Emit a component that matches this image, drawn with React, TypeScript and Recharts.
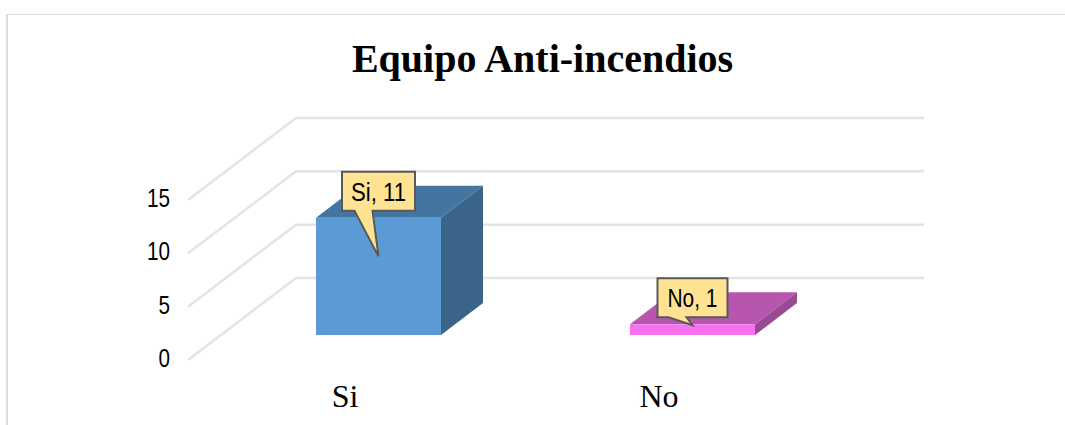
import React from 'react';
import { BarChart, Bar, XAxis, YAxis, CartesianGrid, Cell, LabelList } from 'recharts';

const categories = ['Si', 'No'];
const values = [11, 1];
const frontColors = ['#5B9BD5', '#F772EE'];
const topColors = ['#4475A0', '#B855AF'];
const sideColors = ['#3A6488', '#984B92'];
const yTicks = [0, 5, 10, 15];
const chartTitle = 'Equipo Anti-incendios';

const rows = categories.map((name, i) => ({ name, value: values[i] }));

// Depth of the box and of the back wall, in pixels
const BAR_SHIFT_X = 33;
const BAR_SHIFT_Y = -25;
const BAR_DEPTH_X = 42;
const BAR_DEPTH_Y = -32;
const WALL_X = 108;
const WALL_Y = -82;
const TIP_FRACTION = [0.33, 0.08];

const Box3D = (props: any) => {
  const { x, y, width, height, fill, index } = props;
  const l = x + BAR_SHIFT_X;
  const t = y + BAR_SHIFT_Y;
  const r = l + width;
  const b = t + height;
  const dx = BAR_DEPTH_X;
  const dy = BAR_DEPTH_Y;
  return (
    <g>
      <polygon points={`${l},${t} ${r},${t} ${r + dx},${t + dy} ${l + dx},${t + dy}`} fill={topColors[index]} />
      <polygon points={`${r},${t} ${r + dx},${t + dy} ${r + dx},${b + dy} ${r},${b}`} fill={sideColors[index]} />
      <rect x={l} y={t} width={width} height={height} fill={fill} />
    </g>
  );
};

const Callout = (props: any) => {
  const { x, y, width, height, index } = props;
  const cx = x + BAR_SHIFT_X + width / 2;
  const top = y + BAR_SHIFT_Y;
  const text = `${categories[index]}, ${values[index]}`;
  const boxW = index === 0 ? 73 : 70;
  const boxL = cx - (index === 0 ? 36.5 : 35);
  const boxT = top - 46;
  const boxH = 39;
  const tipY = top + height * TIP_FRACTION[index];
  const tipX = cx;
  const textW = index === 0 ? 55 : 50;
  const d = `M${boxL},${boxT} H${boxL + boxW} V${boxT + boxH} H${cx - 6} L${tipX},${tipY} L${cx - 24},${boxT + boxH} H${boxL} Z`;
  return (
    <g>
      <path d={d} fill="#FFE393" stroke="#595959" strokeWidth={2} strokeLinejoin="miter" />
      <text
        x={boxL + boxW / 2}
        y={boxT + 29}
        textAnchor="middle"
        fontFamily="'Liberation Sans', Arial, sans-serif"
        fontSize={26}
        fill="#000"
        textLength={textW}
        lengthAdjust="spacingAndGlyphs"
      >
        {text}
      </text>
    </g>
  );
};

const WallLine = (props: any) => {
  const { x1, y1, x2, y2 } = props;
  const stroke = '#E4E4E4';
  return (
    <g>
      <line x1={x1} y1={y1} x2={x1 + WALL_X} y2={y1 + WALL_Y} stroke={stroke} strokeWidth={2.5} />
      <line x1={x1 + WALL_X} y1={y1 + WALL_Y} x2={x2 + WALL_X} y2={y2 + WALL_Y} stroke={stroke} strokeWidth={2.5} />
    </g>
  );
};

const YTick = (props: any) => {
  const { x, y, payload } = props;
  const s = String(payload.value);
  return (
    <text
      x={x - 10}
      y={y + 7}
      textAnchor="end"
      fontFamily="'Liberation Sans', Arial, sans-serif"
      fontSize={25}
      fill="#000"
      textLength={s.length * 11.5}
      lengthAdjust="spacingAndGlyphs"
    >
      {s}
    </text>
  );
};

const XTick = (props: any) => {
  const { x, payload } = props;
  return (
    <text x={x} y={407} textAnchor="middle" fontFamily="'Liberation Serif', 'Times New Roman', serif" fontSize={32} fill="#000">
      {payload.value}
    </text>
  );
};

export default function App() {
  return (
    <div style={{ position: 'absolute', left: 0, top: 0, width: 1065, height: 425, background: '#fff', overflow: 'hidden' }}>
      <div
        style={{
          position: 'absolute',
          left: 6,
          top: 14,
          width: 1065,
          height: 425,
          borderLeft: '2px solid #DEDEDE',
          borderTop: '1.5px solid #DEDEDE',
        }}
      />
      <div style={{ position: 'absolute', left: 0, top: 0 }}>
        <BarChart
          width={1065}
          height={425}
          data={rows}
          margin={{ left: 138, right: 249, top: 200, bottom: 0 }}
          barCategoryGap="30%"
        >
          <CartesianGrid vertical={false} horizontal={(p: any) => <WallLine key={p.key ?? p.y1} {...p} />} />
          <XAxis dataKey="name" axisLine={false} tickLine={false} height={65} interval={0} tick={<XTick />} />
          <YAxis width={50} domain={[0, 15]} ticks={yTicks} axisLine={false} tickLine={false} interval={0} tick={<YTick />} />
          <Bar dataKey="value" barSize={125} shape={<Box3D />} isAnimationActive={false}>
            {rows.map((r, i) => (
              <Cell key={r.name} fill={frontColors[i]} />
            ))}
            <LabelList dataKey="value" content={<Callout />} />
          </Bar>
          <text
            x={542.5}
            y={72}
            textAnchor="middle"
            fontFamily="'Liberation Serif', 'Times New Roman', serif"
            fontWeight="bold"
            fontSize={40}
            fill="#000"
          >
            {chartTitle}
          </text>
        </BarChart>
      </div>
    </div>
  );
}
